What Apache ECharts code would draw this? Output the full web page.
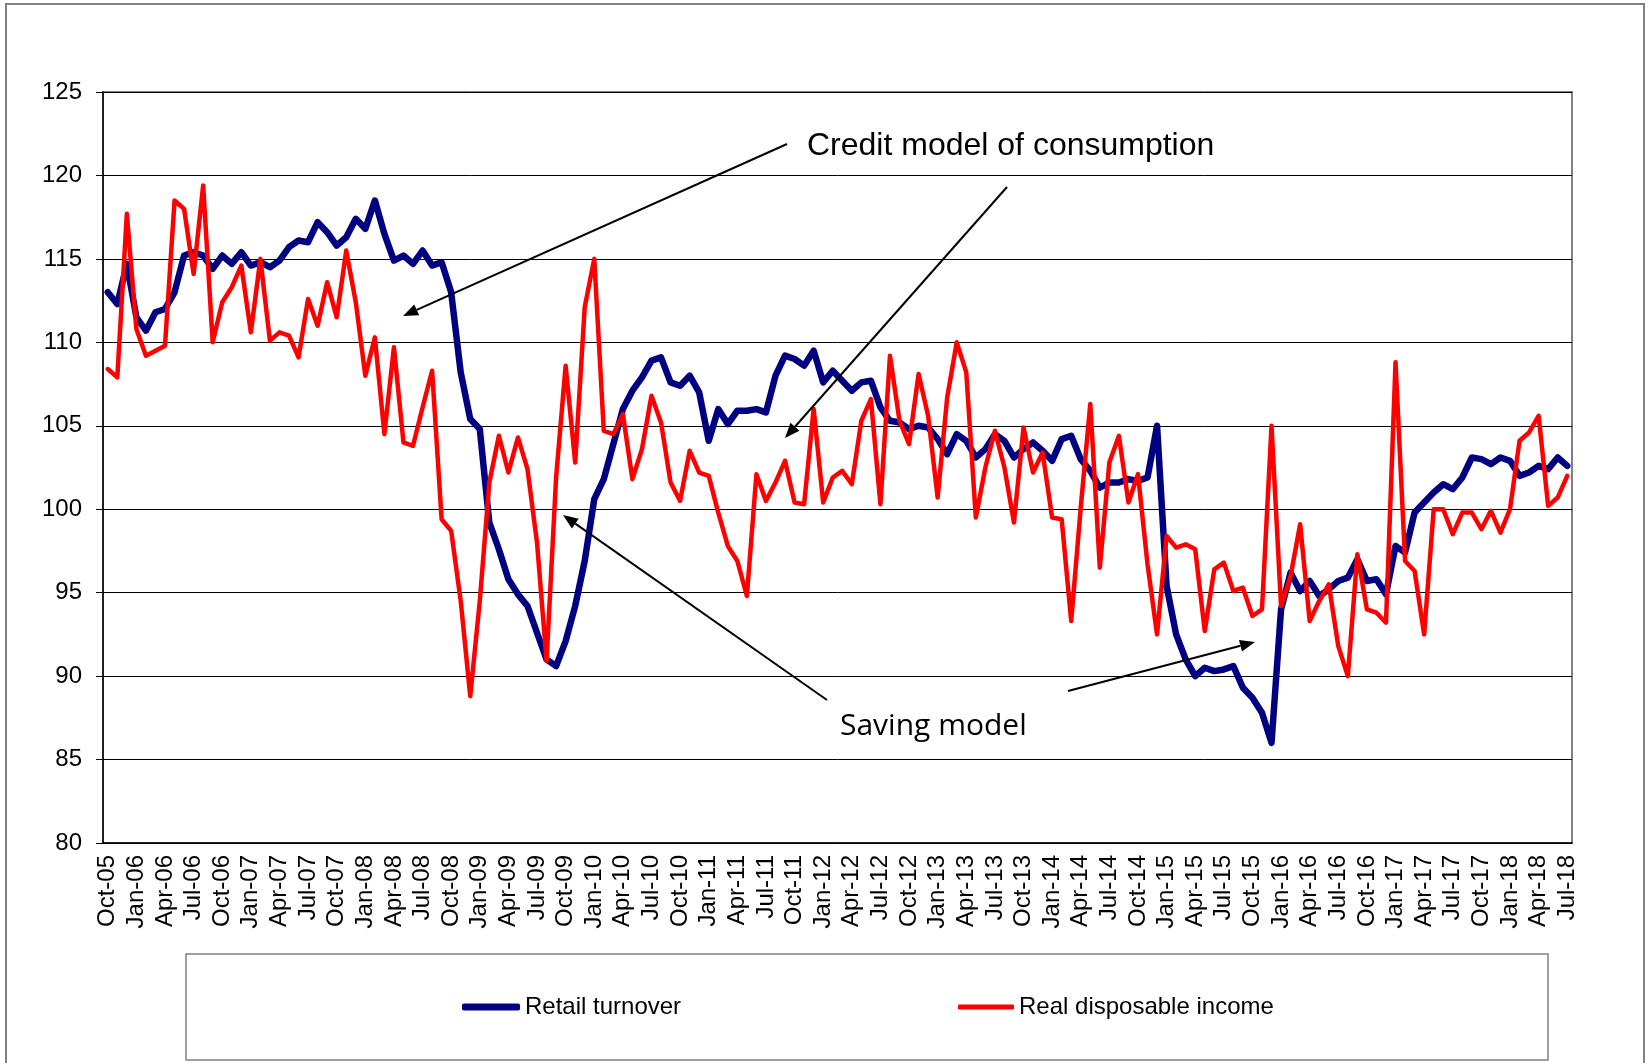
<!DOCTYPE html>
<html>
<head>
<meta charset="utf-8">
<script src="https://cdn.jsdelivr.net/npm/echarts@6/dist/echarts.min.js"></script>
<style>
  html, body { margin: 0; padding: 0; background: #fff; }
  #chart { width: 1649px; height: 1063px; }
</style>
</head>
<body>
<div id="chart"></div>
<script>
// monthly index values, Oct-05 .. Jul-18 (12 per row)
const retailTurnover = [
  113.0, 112.3, 114.7, 111.5, 110.7, 111.8, 112.0, 113.0, 115.2, 115.4, 115.2, 114.4,
  115.2, 114.7, 115.4, 114.6, 114.8, 114.5, 114.9, 115.7, 116.1, 116.0, 117.2, 116.6,
  115.8, 116.3, 117.4, 116.8, 118.5, 116.5, 114.9, 115.2, 114.7, 115.5, 114.6, 114.8,
  113.0, 108.2, 105.4, 104.8, 99.2, 97.6, 95.8, 94.9, 94.2, 92.6, 91.0, 90.6,
  92.1, 94.2, 96.9, 100.6, 101.8, 103.9, 106.0, 107.1, 107.9, 108.9, 109.1, 107.6,
  107.4, 108.0, 107.0, 104.1, 106.0, 105.1, 105.9, 105.9, 106.0, 105.8, 108.0, 109.2,
  109.0, 108.6, 109.5, 107.6, 108.3, 107.7, 107.1, 107.6, 107.7, 106.1, 105.3, 105.2,
  104.8, 105.0, 104.9, 104.2, 103.3, 104.5, 104.1, 103.1, 103.6, 104.5, 104.1, 103.1,
  103.6, 104.0, 103.5, 102.9, 104.2, 104.4, 103.0, 102.3, 101.3, 101.6, 101.6, 101.8,
  101.7, 101.9, 105.0, 95.4, 92.5, 91.0, 90.0, 90.5, 90.3, 90.4, 90.6, 89.3,
  88.7, 87.8, 86.0, 94.0, 96.2, 95.1, 95.7, 94.8, 95.2, 95.7, 95.9, 97.0,
  95.7, 95.8, 94.9, 97.8, 97.4, 99.8, 100.4, 101.0, 101.5, 101.2, 101.9, 103.1,
  103.0, 102.7, 103.1, 102.9, 102.0, 102.2, 102.6, 102.4, 103.1, 102.6
];

const realDisposableIncome = [
  108.4, 107.9, 117.7, 110.8, 109.2, 109.5, 109.8, 118.5, 118.0, 114.1, 119.4, 110.0,
  112.4, 113.3, 114.6, 110.6, 115.0, 110.1, 110.6, 110.4, 109.1, 112.6, 111.0, 113.6,
  111.5, 115.5, 112.4, 108.0, 110.3, 104.5, 109.7, 104.0, 103.8, 106.1, 108.3, 99.4,
  98.7, 94.5, 88.8, 94.5, 101.6, 104.4, 102.2, 104.3, 102.4, 98.0, 90.9, 101.9,
  108.6, 102.8, 112.1, 115.0, 104.7, 104.5, 105.7, 101.8, 103.6, 106.8, 105.2, 101.6,
  100.5, 103.5, 102.2, 102.0, 99.8, 97.8, 96.9, 94.8, 102.1, 100.5, 101.6, 102.9,
  100.4, 100.3, 106.0, 100.4, 101.9, 102.3, 101.5, 105.3, 106.6, 100.3, 109.2, 105.3,
  103.9, 108.1, 105.6, 100.7, 106.7, 110.0, 108.2, 99.5, 102.5, 104.7, 102.5, 99.2,
  104.9, 102.2, 103.4, 99.5, 99.4, 93.3, 100.1, 106.3, 96.5, 102.8, 104.4, 100.4,
  102.1, 96.7, 92.5, 98.4, 97.7, 97.9, 97.6, 92.7, 96.4, 96.8, 95.1, 95.3,
  93.6, 94.0, 105.0, 94.2, 96.0, 99.1, 93.3, 94.5, 95.5, 91.8, 90.0, 97.3,
  94.0, 93.8, 93.2, 108.8, 96.9, 96.3, 92.5, 100.0, 100.0, 98.5, 99.8, 99.8,
  98.8, 99.9, 98.6, 100.0, 104.1, 104.6, 105.6, 100.2, 100.7, 102.0
];

const monthNames = ['Jan', 'Feb', 'Mar', 'Apr', 'May', 'Jun', 'Jul', 'Aug', 'Sep', 'Oct', 'Nov', 'Dec'];
const months = [];
for (let k = 0; k < retailTurnover.length; k++) {
  const m = 9 + k; // starts at Oct-05
  const yy = 5 + Math.floor(m / 12);
  months.push(monthNames[m % 12] + '-' + String(yy).padStart(2, '0'));
}

const yTicks = { min: 80, max: 125, step: 5 };

const FONT = "'Liberation Sans', Arial, sans-serif";

// annotation arrow: line + filled head
function arrow(x1, y1, x2, y2) {
  const dx = x2 - x1, dy = y2 - y1;
  const len = Math.hypot(dx, dy);
  const ux = dx / len, uy = dy / len;
  const head = 15, hw = 6;
  const bx = x2 - ux * head, by = y2 - uy * head;
  return [
    { type: 'line', silent: true, z: 50,
      shape: { x1: x1, y1: y1, x2: bx, y2: by },
      style: { stroke: '#000', lineWidth: 2 } },
    { type: 'polygon', silent: true, z: 50,
      shape: { points: [[x2, y2], [bx - uy * hw, by + ux * hw], [bx + uy * hw, by - ux * hw]] },
      style: { fill: '#000' } }
  ];
}

const chart = echarts.init(document.getElementById('chart'));

chart.setOption({
  animation: false,
  backgroundColor: '#fff',
  grid: {
    left: 103, top: 92, width: 1469, height: 751,
    show: true, borderColor: '#808080', borderWidth: 2, backgroundColor: 'transparent'
  },
  legend: [
    {
      data: ['Retail turnover'],
      left: 462, top: 994, padding: 0,
      icon: 'roundRect', itemWidth: 58, itemHeight: 7,
      textStyle: { fontFamily: FONT, fontSize: 24, color: '#000', lineHeight: 26 }
    },
    {
      data: ['Real disposable income'],
      left: 958, top: 994, padding: 0,
      icon: 'roundRect', itemWidth: 56, itemHeight: 5,
      textStyle: { fontFamily: FONT, fontSize: 24, color: '#000', lineHeight: 26 }
    }
  ],
  xAxis: {
    type: 'category',
    data: months,
    boundaryGap: true,
    axisLine: { lineStyle: { color: '#000', width: 1.5 } },
    axisTick: { interval: 2, length: 6, lineStyle: { color: '#000' } },
    axisLabel: {
      interval: 2, rotate: 90, margin: 12,
      fontFamily: FONT, fontSize: 24, color: '#000'
    },
    splitLine: { show: false }
  },
  yAxis: {
    type: 'value',
    min: yTicks.min, max: yTicks.max, interval: yTicks.step,
    axisLine: { show: true, lineStyle: { color: '#000', width: 1.5 } },
    axisTick: { show: true, length: 7, lineStyle: { color: '#000' } },
    axisLabel: { margin: 21, fontFamily: FONT, fontSize: 24, color: '#000' },
    splitLine: { lineStyle: { color: '#000', width: 1 } }
  },
  series: [
    {
      name: 'Retail turnover',
      type: 'line',
      data: retailTurnover,
      symbol: 'none',
      color: '#000080',
      lineStyle: { color: '#000080', width: 6.5, cap: 'round', join: 'round' }
    },
    {
      name: 'Real disposable income',
      type: 'line',
      data: realDisposableIncome,
      symbol: 'none',
      color: '#ff0000',
      lineStyle: { color: '#ff0000', width: 4.5, cap: 'round', join: 'round' }
    }
  ],
  graphic: [
    { type: 'rect', silent: true, z: -1,
      shape: { x: 6, y: 4, width: 1638, height: 1100 },
      style: { fill: 'transparent', stroke: '#808080', lineWidth: 2 } },
    { type: 'rect', silent: true, z: -1,
      shape: { x: 186, y: 954, width: 1362, height: 106 },
      style: { fill: 'transparent', stroke: '#808080', lineWidth: 1.5 } },
    { type: 'text', silent: true, z: 50, x: 807, y: 146,
      style: { text: 'Credit model of consumption', fontFamily: FONT, fontSize: 32,
               fill: '#000', align: 'left', verticalAlign: 'middle' } },
    { type: 'text', silent: true, z: 50, x: 840, y: 726,
      style: { text: 'Saving model', fontFamily: "'Open Sans', 'Noto Sans', sans-serif", fontSize: 30,
               fill: '#000', align: 'left', verticalAlign: 'middle' } },
    ...arrow(787, 144, 403, 316),
    ...arrow(1007, 187, 785, 438),
    ...arrow(827, 700, 563, 515),
    ...arrow(1068, 691, 1255, 642)
  ]
});
</script>
</body>
</html>
